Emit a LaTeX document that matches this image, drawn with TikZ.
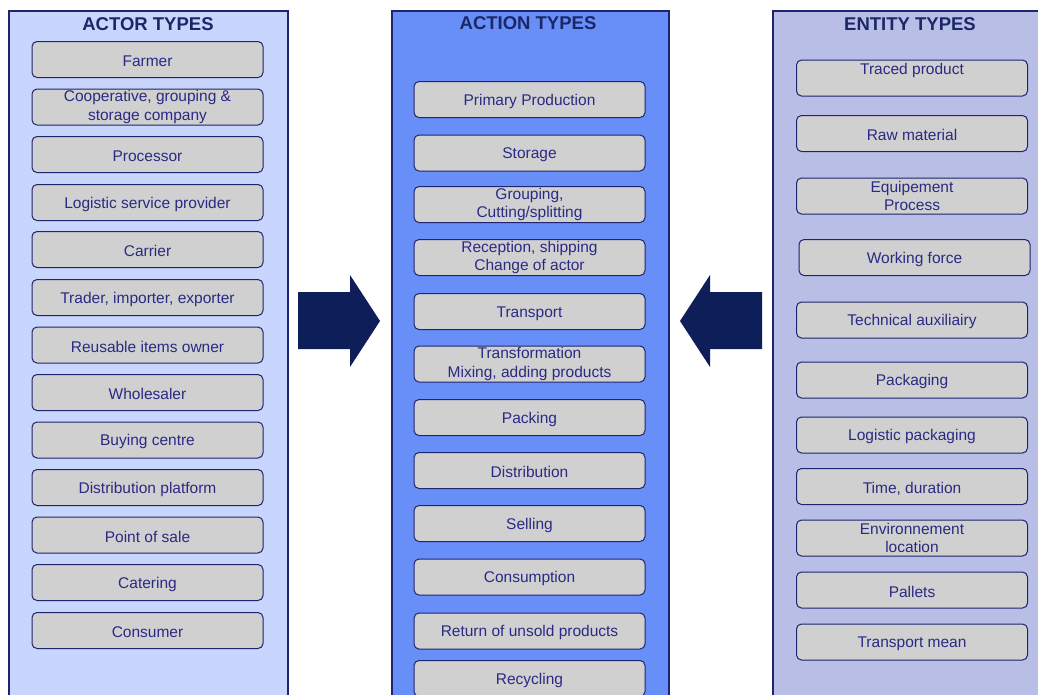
\documentclass[tikz,border=0pt]{standalone}
\usepackage{fontspec}
\setmainfont{Liberation Sans}
\definecolor{actorbg}{RGB}{200,213,252}
\definecolor{actionbg}{RGB}{104,142,248}
\definecolor{entitybg}{RGB}{185,190,230}
\definecolor{boxfill}{RGB}{208,208,208}
\definecolor{navyline}{RGB}{30,36,110}
\definecolor{boxtext}{RGB}{42,42,132}
\definecolor{headtext}{RGB}{26,40,104}
\definecolor{arrowfill}{RGB}{14,30,88}
\newcommand{\toprule}{\rule{0pt}{15pt}}

\begin{document}
\begin{tikzpicture}[x=1pt,y=-1pt,
    panel/.style={draw=navyline, line width=1.1pt},
    header/.style={text=headtext, font=\fontsize{18.5}{21}\selectfont\bfseries, inner sep=0pt},
    bigarrow/.style={fill=arrowfill}]
    \useasboundingbox (0,0) rectangle (1038,694);
    \clip (0,0) rectangle (1038,694);
    \fill[white] (0,0) rectangle (1038,694);
    \draw[panel, fill=actorbg] (9,11) rectangle (288,710);
    \draw[panel, fill=actionbg] (392,11) rectangle (669,710);
    \draw[panel, fill=entitybg] (773,11) rectangle (1050,710);
    \node[header] (actorhd) at (148,24.5) {ACTOR TYPES};
    \node[header] (actionhd) at (528,23.5) {ACTION TYPES};
    \node[header] (entityhd) at (910,24) {ENTITY TYPES};
    \begin{scope}[every node/.style={draw=navyline, fill=boxfill, line width=1pt,
            rounded corners=5pt, minimum width=231pt, minimum height=36pt,
            inner sep=0pt, align=center, text=boxtext,
            font=\fontsize{15.5}{18.5}\selectfont,
            execute at begin node=\toprule}]
        \node (a1) at (147.5,59.5) {Farmer};
        \node (a2) at (147.5,107) {Cooperative, grouping \&\\storage company};
        \node (a3) at (147.5,154.5) {Processor};
        \node (a4) at (147.5,202.5) {Logistic service provider};
        \node (a5) at (147.5,249.5) {Carrier};
        \node (a6) at (147.5,297.5) {Trader, importer, exporter};
        \node (a7) at (147.5,345) {Reusable items owner};
        \node (a8) at (147.5,392.5) {Wholesaler};
        \node (a9) at (147.5,440) {Buying centre};
        \node (a10) at (147.5,487.5) {Distribution platform};
        \node (a11) at (147.5,535) {Point of sale};
        \node (a12) at (147.5,582.5) {Catering};
        \node (a13) at (147.5,630.5) {Consumer};

        \node (t1) at (529.5,99.5) {Primary Production};
        \node (t2) at (529.5,153) {Storage};
        \node (t3) at (529.5,204.5) {Grouping,\\Cutting/splitting};
        \node (t4) at (529.5,257.5) {Reception, shipping\\Change of actor};
        \node (t5) at (529.5,311.5) {Transport};
        \node (t6) at (529.5,364) {Transformation\\Mixing, adding products};
        \node (t7) at (529.5,417.5) {Packing};
        \node (t8) at (529.5,470.5) {Distribution};
        \node (t9) at (529.5,523.5) {Selling};
        \node (t10) at (529.5,577) {Consumption};
        \node (t11) at (529.5,631) {Return of unsold products};
        \node (t12) at (529.5,678.5) {Recycling};

        \node (e1) at (912,78) {Traced product\\\mbox{}};
        \node (e2) at (912,133.5) {Raw material};
        \node (e3) at (912,196) {Equipement\\Process};
        \node (e4) at (914.5,257.5) {Working force};
        \node (e5) at (912,320) {Technical auxiliairy};
        \node (e6) at (912,380) {Packaging};
        \node (e7) at (912,435) {Logistic packaging};
        \node (e8) at (912,486.5) {Time, duration};
        \node (e9) at (912,538) {Environnement\\location};
        \node (e10) at (912,590) {Pallets};
        \node (e11) at (912,642) {Transport mean};
    \end{scope}
    \fill[bigarrow] (298,292) -- (350,292) -- (350,275) -- (380,321) -- (350,367) -- (350,349) -- (298,349) -- cycle;
    \fill[bigarrow] (762,292) -- (710,292) -- (710,275) -- (680,321) -- (710,367) -- (710,349) -- (762,349) -- cycle;
\end{tikzpicture}
\end{document}
